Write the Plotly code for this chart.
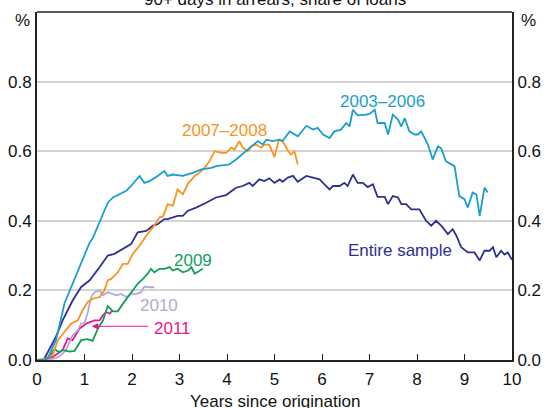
import plotly.graph_objects as go

# ---------------- data ----------------
x_0306 = [0.0, 0.15, 0.23, 0.40, 0.58, 0.75, 0.96, 1.11, 1.17, 1.35, 1.49, 1.60, 1.74, 1.88, 1.98, 2.16, 2.26,
          2.37, 2.54, 2.68, 2.75, 2.86, 3.07, 3.28, 3.46, 3.67, 3.77, 4.05, 4.19, 4.44, 4.54, 4.65, 4.75, 4.83,
          4.96, 5.11, 5.17, 5.32, 5.49, 5.67, 5.81, 5.91, 6.02, 6.16, 6.26, 6.40, 6.51, 6.58, 6.65, 6.75, 6.93,
          7.0, 7.11, 7.17, 7.32, 7.39, 7.49, 7.60, 7.67, 7.74, 7.84, 7.95, 8.02, 8.09, 8.23, 8.33, 8.44, 8.51,
          8.61, 8.72, 8.79, 8.89, 9.0, 9.07, 9.17, 9.25, 9.32, 9.42, 9.49]
y_0306 = [0.0, 0.0, 0.006, 0.057, 0.163, 0.22, 0.286, 0.338, 0.349, 0.409, 0.452, 0.467, 0.477, 0.486, 0.50, 0.529,
          0.509, 0.514, 0.529, 0.543, 0.529, 0.533, 0.529, 0.538, 0.548, 0.552, 0.557, 0.562, 0.576, 0.605, 0.619,
          0.629, 0.619, 0.633, 0.629, 0.633, 0.629, 0.657, 0.643, 0.673, 0.662, 0.667, 0.648, 0.638, 0.657, 0.662,
          0.681, 0.671, 0.719, 0.703, 0.705, 0.707, 0.719, 0.681, 0.681, 0.648, 0.705, 0.691, 0.671, 0.695, 0.657,
          0.648, 0.648, 0.657, 0.619, 0.576, 0.614, 0.608, 0.571, 0.562, 0.557, 0.471, 0.462, 0.438, 0.481, 0.476,
          0.414, 0.495, 0.481]

x_entire = [0.0, 0.10, 0.16, 0.40, 0.54, 0.75, 0.93, 1.11, 1.32, 1.49, 1.63, 1.81, 1.98, 2.12, 2.30, 2.44, 2.54,
            2.68, 2.75, 2.96, 3.07, 3.18, 3.35, 3.56, 3.77, 3.98, 4.19, 4.33, 4.47, 4.54, 4.61, 4.68, 4.79, 4.89,
            5.0, 5.11, 5.17, 5.28, 5.39, 5.49, 5.67, 5.84, 5.95, 6.05, 6.16, 6.23, 6.37, 6.47, 6.54, 6.65, 6.75,
            6.86, 6.96, 7.07, 7.17, 7.32, 7.39, 7.49, 7.60, 7.67, 7.77, 7.88, 8.05, 8.19, 8.30, 8.40, 8.51, 8.65,
            8.75, 8.83, 8.93, 9.07, 9.21, 9.32, 9.42, 9.53, 9.60, 9.67, 9.77, 9.84, 9.91, 10.0]
y_entire = [0.0, 0.0, 0.005, 0.067, 0.114, 0.171, 0.21, 0.229, 0.267, 0.30, 0.305, 0.319, 0.333, 0.367, 0.371,
            0.386, 0.39, 0.405, 0.405, 0.414, 0.414, 0.429, 0.438, 0.452, 0.467, 0.474, 0.495, 0.50, 0.509, 0.50,
            0.509, 0.519, 0.514, 0.522, 0.509, 0.519, 0.512, 0.524, 0.529, 0.512, 0.529, 0.524, 0.519, 0.505, 0.49,
            0.50, 0.50, 0.509, 0.50, 0.533, 0.509, 0.509, 0.497, 0.505, 0.469, 0.469, 0.448, 0.471, 0.467, 0.448,
            0.448, 0.433, 0.433, 0.40, 0.386, 0.40, 0.386, 0.362, 0.376, 0.357, 0.324, 0.309, 0.309, 0.286, 0.314,
            0.314, 0.324, 0.295, 0.314, 0.303, 0.309, 0.288]

x_0708 = [0.0, 0.19, 0.33, 0.44, 0.58, 0.72, 0.86, 0.96, 1.07, 1.17, 1.32, 1.42, 1.49, 1.56, 1.70, 1.81, 1.91,
          2.02, 2.16, 2.30, 2.44, 2.58, 2.65, 2.75, 2.86, 2.96, 3.07, 3.18, 3.32, 3.42, 3.53, 3.63, 3.74, 3.88,
          3.98, 4.09, 4.16, 4.26, 4.33, 4.44, 4.51, 4.61, 4.72, 4.79, 4.89, 5.0, 5.09, 5.17, 5.28, 5.35, 5.42,
          5.49]
y_0708 = [0.0, 0.005, 0.014, 0.057, 0.081, 0.105, 0.114, 0.143, 0.167, 0.176, 0.181, 0.20, 0.229, 0.233, 0.252,
          0.276, 0.276, 0.305, 0.329, 0.357, 0.381, 0.41, 0.412, 0.448, 0.443, 0.49, 0.476, 0.507, 0.529, 0.538,
          0.552, 0.571, 0.60, 0.595, 0.595, 0.61, 0.605, 0.629, 0.61, 0.60, 0.614, 0.619, 0.61, 0.619, 0.619,
          0.583, 0.633, 0.629, 0.602, 0.59, 0.60, 0.562]

x_2009 = [0.0, 0.15, 0.23, 0.37, 0.47, 0.54, 0.68, 0.79, 0.93, 1.07, 1.17, 1.30, 1.39, 1.49, 1.60, 1.70, 1.81,
          1.91, 2.02, 2.12, 2.23, 2.33, 2.40, 2.47, 2.58, 2.68, 2.79, 2.86, 2.96, 3.07, 3.18, 3.25, 3.32, 3.42,
          3.49]
y_2009 = [0.0, 0.0, 0.005, 0.031, 0.022, 0.029, 0.024, 0.026, 0.057, 0.06, 0.055, 0.095, 0.114, 0.155, 0.14,
          0.14, 0.162, 0.181, 0.20, 0.219, 0.233, 0.248, 0.262, 0.252, 0.262, 0.262, 0.267, 0.257, 0.262, 0.252,
          0.257, 0.267, 0.248, 0.257, 0.262]

x_2010 = [0.0, 0.15, 0.26, 0.40, 0.51, 0.61, 0.68, 0.75, 0.86, 0.93, 1.0, 1.07, 1.14, 1.21, 1.32, 1.39, 1.49,
          1.60, 1.67, 1.77, 1.88, 1.98, 2.09, 2.19, 2.26, 2.37, 2.47]
y_2010 = [0.0, 0.0, 0.002, 0.005, 0.014, 0.029, 0.052, 0.071, 0.086, 0.105, 0.105, 0.138, 0.181, 0.195, 0.20,
          0.186, 0.195, 0.19, 0.186, 0.19, 0.181, 0.19, 0.19, 0.195, 0.211, 0.209, 0.209]

x_2011 = [0.0, 0.15, 0.33, 0.44, 0.54, 0.65, 0.75, 0.89, 1.04, 1.14, 1.21, 1.32, 1.39, 1.46, 1.53, 1.59]
y_2011 = [0.0, 0.0, 0.008, 0.019, 0.029, 0.062, 0.057, 0.09, 0.105, 0.11, 0.114, 0.114, 0.129, 0.138, 0.133,
          0.143]

y_ticks = [0.0, 0.2, 0.4, 0.6, 0.8]
x_ticks = list(range(0, 11))

C_0306 = "#1a9fcc"
C_ENT = "#2e3092"
C_0708 = "#f7941d"
C_2009 = "#0ea05a"
C_2010 = "#b3a9d6"
C_2011 = "#e5178c"

FONT = "Arial, Liberation Sans, sans-serif"
FS = 17

fig = go.Figure()
series = [
    (x_2011, y_2011, C_2011, "2011"),
    (x_2010, y_2010, C_2010, "2010"),
    (x_2009, y_2009, C_2009, "2009"),
    (x_entire, y_entire, C_ENT, "Entire sample"),
    (x_0708, y_0708, C_0708, "2007–2008"),
    (x_0306, y_0306, C_0306, "2003–2006"),
]
for xs, ys, col, name in series:
    fig.add_trace(go.Scatter(x=xs, y=ys, mode="lines", name=name,
                             line=dict(color=col, width=1.8), showlegend=False))
# invisible trace for right axis
fig.add_trace(go.Scatter(x=[0], y=[0], yaxis="y2", mode="markers",
                         marker=dict(opacity=0), showlegend=False, hoverinfo="skip"))

fig.update_layout(
    width=547, height=408,
    margin=dict(l=37, r=35, t=12, b=48),
    paper_bgcolor="white", plot_bgcolor="white",
    font=dict(family=FONT, size=FS, color="#111111"),
    xaxis=dict(range=[0, 10], tickvals=x_ticks, ticks="inside", ticklen=6, tickwidth=1.2,
               tickcolor="#222222", showgrid=False, zeroline=False, automargin=False,
               showline=True, linecolor="#222222", linewidth=2, ticklabelstandoff=3,
               tickfont=dict(size=FS, family=FONT)),
    yaxis=dict(range=[0, 1.0], tickvals=y_ticks, tickformat=".1f", showgrid=True, automargin=False,
               gridcolor="#d4d4d4", gridwidth=1.5, zeroline=False, ticks="",
               showline=True, linecolor="#222222", linewidth=2,
               tickfont=dict(size=FS, family=FONT)),
    yaxis2=dict(range=[0, 1.0], tickvals=y_ticks, tickformat=".1f", overlaying="y", side="right",
                showgrid=False, zeroline=False, ticks="", showline=True, linecolor="#222222",
                automargin=False, linewidth=2, tickfont=dict(size=FS, family=FONT)),
)

# top border
fig.add_shape(type="line", xref="paper", yref="paper", x0=0, x1=1, y0=1, y1=1,
              line=dict(color="#222222", width=1.3))

ann = [
    dict(text="90+ days in arrears; share of loans", xref="paper", yref="paper", x=0.5, y=1,
         yanchor="bottom", yshift=1, showarrow=False, font=dict(size=FS, color="#111111")),
    dict(text="%", xref="paper", yref="paper", x=0, y=1, xanchor="center", yanchor="middle",
         xshift=-15, yshift=-8, showarrow=False, font=dict(size=FS)),
    dict(text="%", xref="paper", yref="paper", x=1, y=1, xanchor="center", yanchor="middle",
         xshift=16, yshift=-8, showarrow=False, font=dict(size=FS)),
    dict(text="Years since origination", xref="paper", yref="paper", x=0.5, y=0,
         yanchor="top", yshift=-30, showarrow=False, font=dict(size=FS)),
    dict(text="2003–2006", x=7.27, y=0.743, showarrow=False, font=dict(size=FS, color=C_0306)),
    dict(text="2007–2008", x=3.95, y=0.66, showarrow=False, font=dict(size=FS, color=C_0708)),
    dict(text="Entire sample", x=7.65, y=0.314, showarrow=False, font=dict(size=FS, color=C_ENT)),
    dict(text="2009", x=3.29, y=0.286, showarrow=False, font=dict(size=FS, color=C_2009)),
    dict(text="2010", x=2.56, y=0.157, showarrow=False, font=dict(size=FS, color=C_2010)),
    dict(text="2011", x=2.85, y=0.091, showarrow=False, font=dict(size=FS, color=C_2011)),
    dict(text="", x=1.15, y=0.097, ax=2.37, ay=0.097, axref="x", ayref="y",
         showarrow=True, arrowhead=2, arrowsize=1.1, arrowwidth=1.2, arrowcolor=C_2011),
]
fig.update_layout(annotations=ann)

fig.write_html("out.html", config={"displayModeBar": False},
               post_script="document.body.style.margin='0px';")
